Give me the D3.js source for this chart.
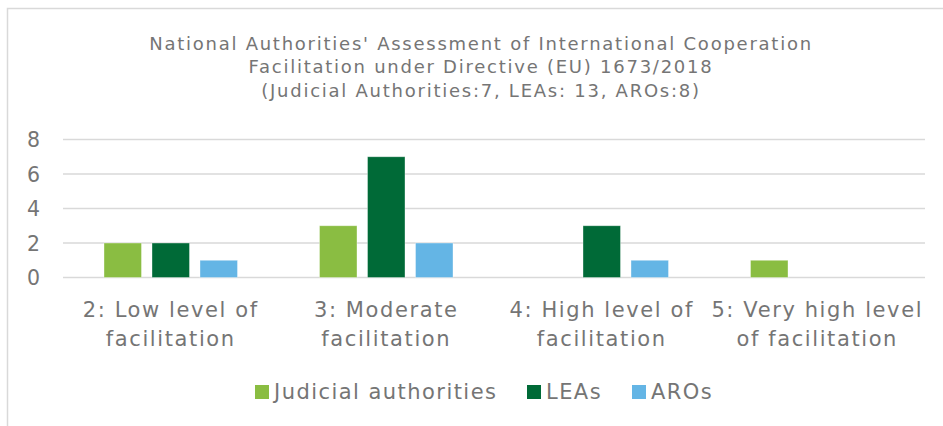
<!DOCTYPE html>
<html>
<head>
<meta charset="utf-8">
<script src="https://cdn.jsdelivr.net/npm/d3@7"></script>
<style>
  html, body { margin: 0; padding: 0; background: #fff; }
  svg { display: block; }
  text { font-family: "DejaVu Sans", Verdana, sans-serif; fill: #757575; }
</style>
</head>
<body>
<svg id="chart" width="943" height="426"></svg>
<script>
const titleLines = [
  "National Authorities' Assessment of International Cooperation",
  "Facilitation under Directive (EU) 1673/2018",
  "(Judicial Authorities:7, LEAs: 13, AROs:8)"
];
const categories = ["2: Low level of facilitation", "3: Moderate facilitation", "4: High level of facilitation", "5: Very high level of facilitation"];
const categoryLines = [
  ["2: Low level of", "facilitation"],
  ["3: Moderate", "facilitation"],
  ["4: High level of", "facilitation"],
  ["5: Very high level", "of facilitation"]
];
const seriesNames = ["Judicial authorities", "LEAs", "AROs"];
const judicial = [2, 3, 0, 1];
const leas = [2, 7, 3, 0];
const aros = [1, 2, 1, 0];
const yTicks = [0, 2, 4, 6, 8];
const colors = ["#8ABD42", "#006A37", "#64B5E5"];

(function () {
const seriesValues = [judicial, leas, aros];
const svg = d3.select("#chart");

svg.append("rect").attr("x", 7.5).attr("y", 8.5).attr("width", 1000).attr("height", 1000)
  .attr("fill", "none").attr("stroke", "#d9d9d9").attr("stroke-width", 1.5);

const pLeft = 63, pRight = 925, pTop = 139.5, pBottom = 277.5;

const y = d3.scaleLinear().domain([0, 8]).range([pBottom, pTop]);
const x0 = d3.scaleBand().domain(categories).range([pLeft, pRight]).paddingInner(0).paddingOuter(0);
const groupPad = 41;
const x1 = d3.scaleBand().domain(seriesNames).range([groupPad, x0.bandwidth() - groupPad]).paddingInner(0.219).paddingOuter(0);

const title = svg.append("g");
titleLines.forEach((t, i) => {
  title.append("text").attr("x", 481).attr("y", 49.5 + i * 23.5)
    .attr("text-anchor", "middle").style("font-size", "18px")
    .style("letter-spacing", "1.75px").text(t);
});

svg.append("g").selectAll("line").data(yTicks).join("line")
  .attr("x1", pLeft).attr("x2", pRight)
  .attr("y1", d => y(d)).attr("y2", d => y(d))
  .attr("stroke", "#d9d9d9").attr("stroke-width", 1.5);

const yAxis = d3.axisLeft(y).tickValues(yTicks).tickSize(0).tickPadding(0);
const yg = svg.append("g").attr("transform", "translate(40,0)").call(yAxis);
yg.select(".domain").remove();
yg.selectAll("text").style("font-size", "20.5px").attr("fill", "#757575").attr("dy", "0.36em");

const groups = svg.append("g").selectAll("g").data(categories).join("g")
  .attr("transform", d => `translate(${x0(d)},0)`);
groups.selectAll("rect").data((d, i) => seriesNames.map((s, j) => ({ s, v: seriesValues[j][i], c: colors[j] })))
  .join("rect")
  .attr("x", d => x1(d.s)).attr("width", x1.bandwidth())
  .attr("y", d => y(d.v)).attr("height", d => y(0) - y(d.v))
  .attr("fill", d => d.c)
  .attr("stroke", "#ffffff").attr("stroke-opacity", 0.45).attr("stroke-width", 0.8)
  .style("display", d => d.v === 0 ? "none" : null);

const xAxisG = svg.append("g");
categories.forEach((c, i) => {
  const cx = x0(c) + x0.bandwidth() / 2;
  categoryLines[i].forEach((line, k) => {
    xAxisG.append("text").attr("x", cx).attr("y", 317 + k * 29)
      .attr("text-anchor", "middle").style("font-size", "21px")
      .style("letter-spacing", "1.6px").text(line);
  });
});

const legend = svg.append("g");
const legendStarts = [255, 527, 632];
seriesNames.forEach((s, i) => {
  legend.append("rect").attr("x", legendStarts[i]).attr("y", 385).attr("width", 14).attr("height", 14).attr("fill", colors[i]);
  legend.append("text").attr("x", legendStarts[i] + 19).attr("y", 399).style("font-size", "21px")
    .style("letter-spacing", "1.45px").text(s);
});
})();
</script>
</body>
</html>
